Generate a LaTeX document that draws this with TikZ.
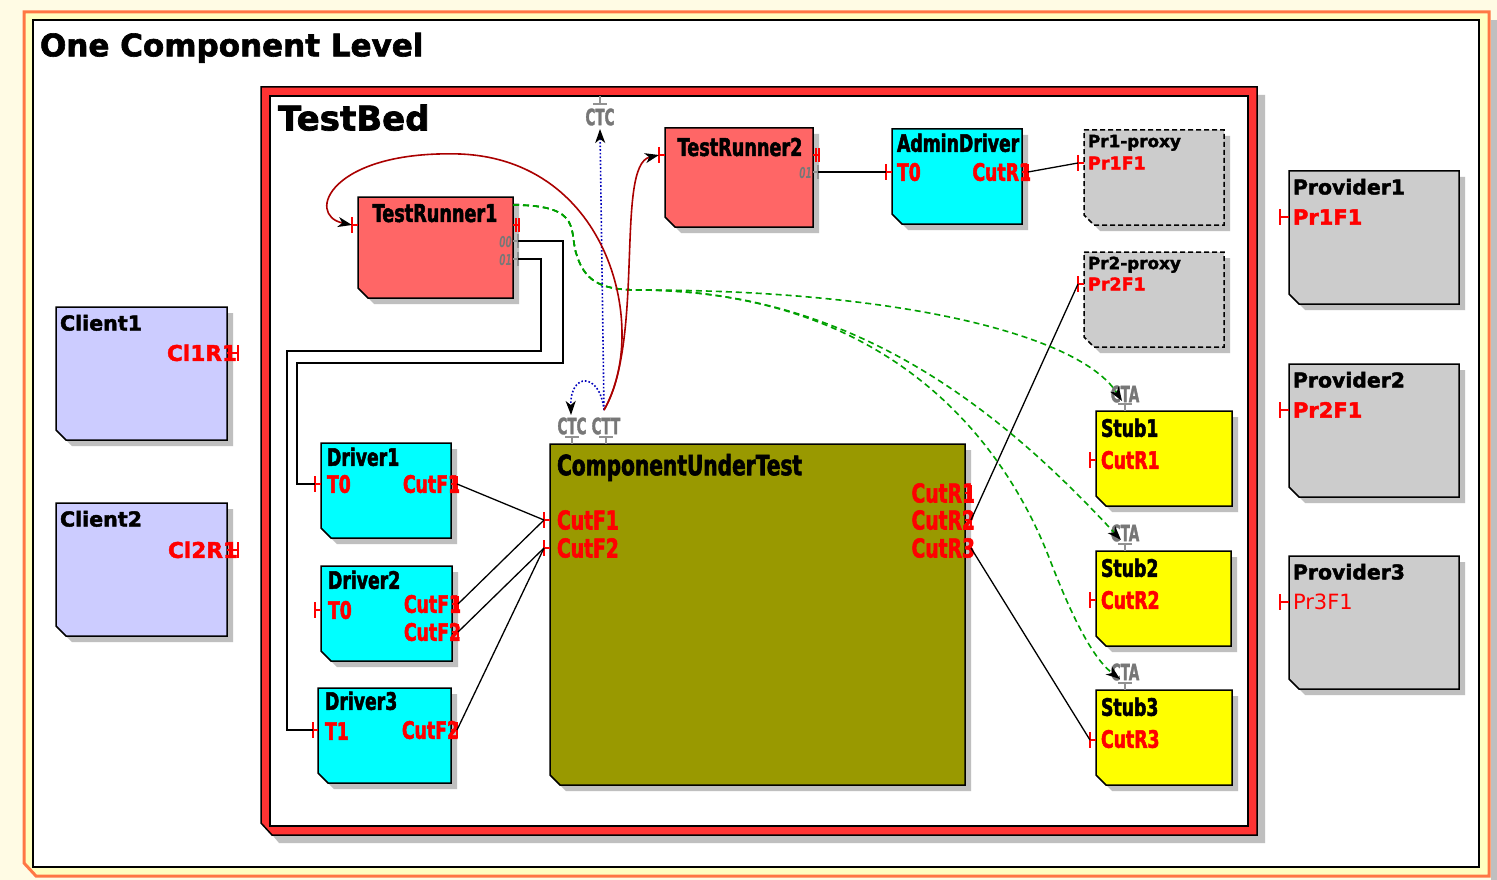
\documentclass[tikz,border=0pt]{standalone}
\usepackage{fontspec}
\setmainfont{DejaVu Sans}[BoldFeatures={FakeBold=2}]
\newfontfamily\cnd{DejaVu Sans}[FakeStretch=0.72, BoldFeatures={FakeBold=2}]
\newfontfamily\ncnd{DejaVu Sans}[FakeStretch=0.6, BoldFeatures={FakeBold=1.5}]
\usetikzlibrary{arrows.meta}

\definecolor{pagebg}{HTML}{FFFBE4}
\definecolor{frameyellow}{HTML}{FFFFC0}
\definecolor{frameorange}{HTML}{FF7744}
\definecolor{tbred}{HTML}{FF3333}
\definecolor{runner}{HTML}{FF6666}
\definecolor{cyanc}{HTML}{00FFFF}
\definecolor{proxgrey}{HTML}{CCCCCC}
\definecolor{lav}{HTML}{CCCCFF}
\definecolor{olivec}{HTML}{999900}
\definecolor{yel}{HTML}{FFFF00}
\definecolor{shadowc}{HTML}{BFBFBF}
\definecolor{portred}{HTML}{FF0000}
\definecolor{greytxt}{HTML}{777777}
\definecolor{darkred}{HTML}{AA0000}
\definecolor{greenc}{HTML}{00A000}
\definecolor{bluec}{HTML}{0000BB}

\tikzset{
  fs/.style={inner sep=0pt, outer sep=0pt, text depth=0pt, text height={0.73*#1},
             font=\bfseries\fontsize{#1}{#1}\selectfont},
  fsr/.style={fs=#1, font=\fontsize{#1}{#1}\selectfont},
  cf/.style={fs=#1, font=\cnd\bfseries\fontsize{#1}{#1}\selectfont},
  nf/.style={fs=#1, font=\ncnd\bfseries\fontsize{#1}{#1}\selectfont},
  nfi/.style={fs=#1, font=\ncnd\bfseries\itshape\fontsize{#1}{#1}\selectfont},
  pt/.style={text=portred},
  gt/.style={text=greytxt},
  boxline/.style={draw=black, line width=1.5pt},
  ptick/.style={draw=portred, line width=1.5pt},
  gtick/.style={draw=greytxt!80, line width=1.5pt},
  wire/.style={draw=black, line width=1.3pt},
  tip/.style={-{Stealth[length=14pt,width=10pt,inset=4pt,color=black]}},
  calldep/.style={darkred, line width=1.6pt, tip},
  ctrl/.style={bluec, line width=1.6pt, dotted, tip},
  testflow/.style={greenc, line width=1.6pt, dash pattern=on 6pt off 4pt, tip},
}

% box with chamfered bottom-left corner and drop shadow
\newcommand\cbox[6]{%
  \fill[shadowc] ({#2+6},{#3+6}) -- ({#4+6},{#3+6}) -- ({#4+6},{#5+6})
     -- ({#2+16},{#5+6}) -- ({#2+6},{#5-4}) -- cycle;
  \path[boxline,#6] (#2,#3) -- (#4,#3) -- (#4,#5) -- ({#2+10},#5) -- (#2,{#5-10}) -- cycle;
  \node[inner sep=0pt, outer sep=0pt, minimum width={#4-#2}, minimum height={#5-#3}]
     (#1) at ({(#2+#4)/2},{(#3+#5)/2}) {};}
% port on a left edge: bar, edge, y
\newcommand\lport[4]{%
  \draw[ptick] (#2,{#4-8}) -- (#2,{#4+8}) (#2,#4) -- (#3,#4);
  \coordinate (#1) at (#2,#4);}
% port on a right edge: edge, bar, y
\newcommand\rport[4]{%
  \draw[ptick] (#3,{#4-8}) -- (#3,{#4+8}) (#2,#4) -- (#3,#4);
  \coordinate (#1) at (#3,#4);}
% grey test port on a right edge
\newcommand\gport[4]{%
  \draw[gtick] (#3,{#4-7}) -- (#3,{#4+7}) (#2,#4) -- (#3,#4);
  \coordinate (#1) at (#3,#4);}

\begin{document}
\begin{tikzpicture}[x=1pt,y=-1pt]
\useasboundingbox (0,0) rectangle (1497,880);
\fill[pagebg] (0,0) rectangle (1497,880);

% ---- level frame
\fill[shadowc] (1491,20) rectangle (1497,880);
\filldraw[fill=frameyellow, draw=frameorange, line width=3pt]
  (24,12) -- (1489,12) -- (1489,876) -- (36,876) -- (24,863) -- cycle;
\filldraw[fill=white, draw=black, line width=1.5pt] (33,20) rectangle (1479,867);
\node[fs=31, anchor=west] (leveltitle) at (40,45) {One Component Level};

% ---- test bed frame
\fill[shadowc] (269,95) -- (1265,95) -- (1265,843) -- (279,843) -- (269,831) -- cycle;
\filldraw[fill=tbred, draw=black, line width=1.5pt]
  (261,87) -- (1257,87) -- (1257,835) -- (272,835) -- (261,823) -- cycle;
\filldraw[fill=white, draw=black, line width=1.5pt] (270,96) rectangle (1248,826);
\node[fs=34, anchor=west] (tbtitle) at (278,118) {TestBed};

% ---- clients
\cbox{client1}{56}{307}{227}{440}{fill=lav}
\node[fs=20.6, anchor=west] (client1t) at (60,323) {Client1};
\node[fs=21.6, anchor=east, pt] (client1p) at (237,353) {Cl1R1};
\rport{c1R1}{227}{238}{353}
\cbox{client2}{56}{503}{227}{636}{fill=lav}
\node[fs=20.6, anchor=west] (client2t) at (60,519) {Client2};
\node[fs=21.6, anchor=east, pt] (client2p) at (238,550) {Cl2R1};
\rport{c2R1}{227}{238}{550}

% ---- providers
\cbox{prov1}{1289}{171}{1459}{304}{fill=proxgrey}
\node[fs=20.4, anchor=west] (prov1t) at (1293,187) {Provider1};
\node[fs=21, anchor=west, pt] (prov1p) at (1293,217) {Pr1F1};
\lport{pv1}{1280}{1289}{217}
\cbox{prov2}{1289}{364}{1459}{497}{fill=proxgrey}
\node[fs=20.4, anchor=west] (prov2t) at (1293,380) {Provider2};
\node[fs=21, anchor=west, pt] (prov2p) at (1293,410) {Pr2F1};
\lport{pv2}{1280}{1289}{410}
\cbox{prov3}{1289}{556}{1459}{689}{fill=proxgrey}
\node[fs=20.4, anchor=west] (prov3t) at (1293,572) {Provider3};
\node[fsr=21, anchor=west, pt] (prov3p) at (1293,602) {Pr3F1};
\lport{pv3}{1280}{1289}{602}

% ---- test runners
\cbox{tr1}{358}{197}{513}{298}{fill=runner}
\node[cf=24.5] (tr1t) at (435,213) {TestRunner1};
\lport{tr1in}{352}{358}{225}
\draw[ptick] (516,218) -- (516,232) (519,218) -- (519,232) (513,225) -- (519,225);
\node[nfi=15, gt, anchor=east] (tr1l0) at (512,242) {00};
\node[nfi=15, gt, anchor=east] (tr1l1) at (512,260) {01};
\gport{tr1o0}{513}{518}{241}
\gport{tr1o1}{513}{518}{259}

\cbox{tr2}{665}{128}{813}{227}{fill=runner}
\node[cf=24.5] (tr2t) at (740,147) {TestRunner2};
\lport{tr2in}{659}{665}{155}
\draw[ptick] (816,148) -- (816,162) (819,148) -- (819,162) (813,155) -- (819,155);
\node[nfi=15, gt, anchor=east] (tr2l1) at (812,173) {01};
\gport{tr2o1}{813}{818}{172}

% ---- admin driver and proxies
\cbox{admin}{892}{129}{1022}{224}{fill=cyanc}
\node[cf=24, anchor=west] (admint) at (897,143) {AdminDriver};
\node[cf=24, anchor=west, pt] (adminT0) at (897,172) {T0};
\node[cf=24, anchor=east, pt] (adminR1) at (1031,172) {CutR1};
\lport{adT0}{886}{892}{172}
\rport{adR1}{1022}{1028}{172}

\cbox{prox1}{1084}{130}{1224}{225}{fill=proxgrey, dash pattern=on 5pt off 3pt}
\node[fs=16.8, anchor=west] (prox1t) at (1088,141) {Pr1-proxy};
\node[fs=17.5, anchor=west, pt] (prox1p) at (1088,163) {Pr1F1};
\lport{p1in}{1078}{1084}{163}
\cbox{prox2}{1084}{252}{1224}{347}{fill=proxgrey, dash pattern=on 5pt off 3pt}
\node[fs=16.8, anchor=west] (prox2t) at (1088,263) {Pr2-proxy};
\node[fs=17.5, anchor=west, pt] (prox2p) at (1088,284) {Pr2F1};
\lport{p2in}{1078}{1084}{284}

% ---- drivers
\cbox{drv1}{321}{443}{451}{538}{fill=cyanc}
\node[cf=24, anchor=west] (drv1t) at (327,457) {Driver1};
\node[cf=24, anchor=west, pt] (drv1a) at (327,484) {T0};
\node[cf=24, anchor=east, pt] (drv1b) at (460,484) {CutF1};
\lport{d1T0}{315}{321}{484}
\rport{d1F1}{451}{457}{484}

\cbox{drv2}{321}{566}{452}{661}{fill=cyanc}
\node[cf=24, anchor=west] (drv2t) at (328,580) {Driver2};
\node[cf=24, anchor=west, pt] (drv2a) at (328,610) {T0};
\node[cf=24, anchor=east, pt] (drv2b) at (461,604) {CutF1};
\node[cf=24, anchor=east, pt] (drv2c) at (461,632) {CutF2};
\lport{d2T0}{315}{321}{610}
\rport{d2F1}{452}{458}{604}
\rport{d2F2}{452}{458}{632}

\cbox{drv3}{318}{688}{451}{783}{fill=cyanc}
\node[cf=24, anchor=west] (drv3t) at (325,701) {Driver3};
\node[cf=24, anchor=west, pt] (drv3a) at (325,731) {T1};
\node[cf=24, anchor=east, pt] (drv3b) at (459,730) {CutF2};
\lport{d3T1}{313}{318}{730}
\rport{d3F2}{451}{457}{730}

% ---- component under test
\cbox{cut}{550}{444}{965}{785}{fill=olivec}
\node[cf=28, anchor=west] (cutt) at (557,465) {ComponentUnderTest};
\node[cf=26, anchor=west, pt] (cutF1t) at (557,520) {CutF1};
\node[cf=26, anchor=west, pt] (cutF2t) at (557,548) {CutF2};
\node[cf=26, anchor=east, pt] (cutR1t) at (975,493) {CutR1};
\node[cf=26, anchor=east, pt] (cutR2t) at (975,520) {CutR2};
\node[cf=26, anchor=east, pt] (cutR3t) at (975,548) {CutR3};
\lport{cutF1}{544}{550}{520}
\lport{cutF2}{544}{550}{548}
\rport{cutR1}{965}{971}{493}
\rport{cutR2}{965}{971}{520}
\rport{cutR3}{965}{971}{548}
\node[nf=22.5, gt] (cutctc) at (572,426) {CTC};
\node[nf=22.5, gt] (cutctt) at (606,426) {CTT};
\draw[gtick] (565,437) -- (579,437) (572,437) -- (572,444);
\draw[gtick] (599,437) -- (613,437) (606,437) -- (606,444);

% ---- test bed control port
\node[nf=22.5, gt] (tbctc) at (600,117) {CTC};
\draw[gtick] (593,104) -- (607,104) (600,104) -- (600,96);

% ---- stubs
\cbox{stub1}{1096}{411}{1232}{506}{fill=yel}
\node[cf=24, anchor=west] (stub1t) at (1101,428) {Stub1};
\node[cf=24, anchor=west, pt] (stub1p) at (1101,460) {CutR1};
\lport{s1in}{1090}{1096}{460}
\node[nf=22.5, gt] (stub1a) at (1125,394) {CTA};
\draw[gtick] (1118,404) -- (1132,404) (1125,404) -- (1125,411);

\cbox{stub2}{1096}{551}{1231}{646}{fill=yel}
\node[cf=24, anchor=west] (stub2t) at (1101,568) {Stub2};
\node[cf=24, anchor=west, pt] (stub2p) at (1101,600) {CutR2};
\lport{s2in}{1090}{1096}{600}
\node[nf=22.5, gt] (stub2a) at (1125,533) {CTA};
\draw[gtick] (1118,544) -- (1132,544) (1125,544) -- (1125,551);

\cbox{stub3}{1096}{690}{1232}{785}{fill=yel}
\node[cf=24, anchor=west] (stub3t) at (1101,707) {Stub3};
\node[cf=24, anchor=west, pt] (stub3p) at (1101,739) {CutR3};
\lport{s3in}{1090}{1096}{740}
\node[nf=22.5, gt] (stub3a) at (1125,672) {CTA};
\draw[gtick] (1118,683) -- (1132,683) (1125,683) -- (1125,690);

% ---- wiring
\draw[wire] (tr1o0) -- (563,241) -- (563,363) -- (297,363) |- (d1T0);
\draw[wire] (tr1o1) -- (541,259) -- (541,351) -- (287,351) |- (d3T1);
\draw[wire] (tr2o1) -- (adT0);
\draw[wire] (adR1) -- (p1in);
\draw[wire] (cutR2) -- (p2in);
\draw[wire] (cutR3) -- (s3in);
\draw[wire] (d1F1) -- (cutF1);
\draw[wire] (d2F1) -- (cutF1);
\draw[wire] (d2F2) -- (cutF2);
\draw[wire] (d3F2) -- (cutF2);

% ---- test flow from runner to stubs
\coordinate (flowA) at (513,205);
\coordinate (flowB) at (640,290);
\draw[testflow] (flowA) .. controls (585,205) and (568,232) .. (577,256)
   .. controls (586,284) and (605,290) .. (flowB)
   .. controls (900,290) and (1080,335) .. (1122,401);
\draw[testflow] (flowA) .. controls (585,205) and (568,232) .. (577,256)
   .. controls (586,284) and (605,290) .. (flowB)
   .. controls (860,290) and (1010,420) .. (1121,540);
\draw[testflow] (flowA) .. controls (585,205) and (568,232) .. (577,256)
   .. controls (586,284) and (605,290) .. (flowB)
   .. controls (880,292) and (1000,430) .. (1050,560)
   .. controls (1075,625) and (1095,660) .. (1120,679);

% ---- control links from the component's test port
\coordinate (cttTop) at (604,410);
\draw[ctrl] (cttTop) -- (600,129);
\draw[ctrl] (cttTop) .. controls (600,372) and (570,372) .. (571,415);
\draw[calldep] (cttTop) .. controls (650,330) and (610,160) .. (460,154)
   .. controls (330,150) and (305,215) .. (tr1in);
\draw[calldep] (cttTop) .. controls (645,340) and (615,165) .. (tr2in);
\end{tikzpicture}
\end{document}
